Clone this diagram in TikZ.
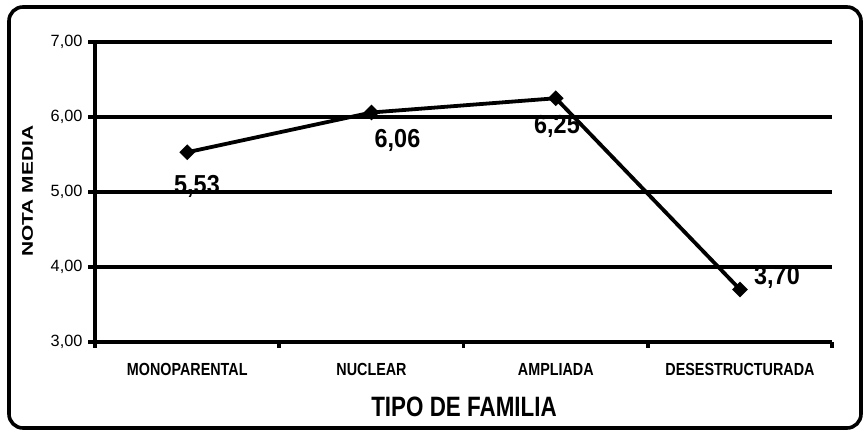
\documentclass[tikz,border=0pt]{standalone}
\usepackage{fontspec}
\setmainfont{Liberation Sans}
\newfontfamily\narrowfont[FakeStretch=0.82]{Liberation Sans}
\newfontfamily\titlefont[FakeStretch=0.8]{Liberation Sans}
\newfontfamily\datafont[FakeStretch=0.9]{Liberation Sans}
\newfontfamily\widefont[FakeStretch=1.35]{Liberation Sans}
\usetikzlibrary{shapes.geometric}

\begin{document}
\begin{tikzpicture}[x=1pt,y=-1pt,
    grid/.style={line width=3.8pt},
    serie/.style={line width=3.8pt},
    punto/.style={diamond, fill=black, inner sep=0pt, minimum size=16pt},
    dato/.style={font=\datafont\bfseries\fontsize{26}{26}\selectfont},
    categ/.style={font=\narrowfont\bfseries\fontsize{17.5}{18}\selectfont},
    escala/.style={anchor=east, font=\fontsize{16.3}{17}\selectfont}]

    \useasboundingbox (0,0) rectangle (863,430);
    \draw[line width=3.6pt, rounded corners=14pt] (9,7) rectangle (861,428);

    \begin{scope}[shift={(95,342)}, x=1pt, y=75pt]
    % rejilla y escala
    \foreach \v in {0,...,4} {
        \pgfmathtruncatemacro\n{\v+3}
        \draw[grid] (-7pt,\v) -- (737,\v);
        \node[escala] (e\v) at (-9,\v) {\n,00};
    }
    \draw[grid] (0,0) -- (0,4);
    \foreach \i in {0,...,4}
        \draw[grid] (184.25*\i,0) -- ++(0pt,-6pt);

    % categorias
    \node[categ] (c1) at (92.2,-0.37) {MONOPARENTAL};
    \node[categ] (c2) at (276.5,-0.37) {NUCLEAR};
    \node[categ] (c3) at (460.8,-0.37) {AMPLIADA};
    \node[categ] (c4) at (645,-0.37) {DESESTRUCTURADA};

    % serie
    \node[punto] (p1) at (92.2,2.53) {};
    \node[punto] (p2) at (276.5,3.06) {};
    \node[punto] (p3) at (460.8,3.25) {};
    \node[punto] (p4) at (645,0.70) {};
    \draw[serie] (p1.center) -- (p2.center) -- (p3.center) -- (p4.center);

    \node[dato] (d1) at (102,2.08) {5,53};
    \node[dato] (d2) at (302.5,2.69) {6,06};
    \node[dato] (d3) at (462,2.87) {6,25};
    \node[dato] (d4) at (682,0.867) {3,70};

    % titulos
    \node[font=\titlefont\bfseries\fontsize{28}{28}\selectfont] (tx) at (369,-0.867) {TIPO DE FAMILIA};
    \node[font=\widefont\bfseries\fontsize{15.5}{16}\selectfont, rotate=90] (ty) at (-67.5,2.01) {NOTA MEDIA};
    \end{scope}

\end{tikzpicture}
\end{document}
